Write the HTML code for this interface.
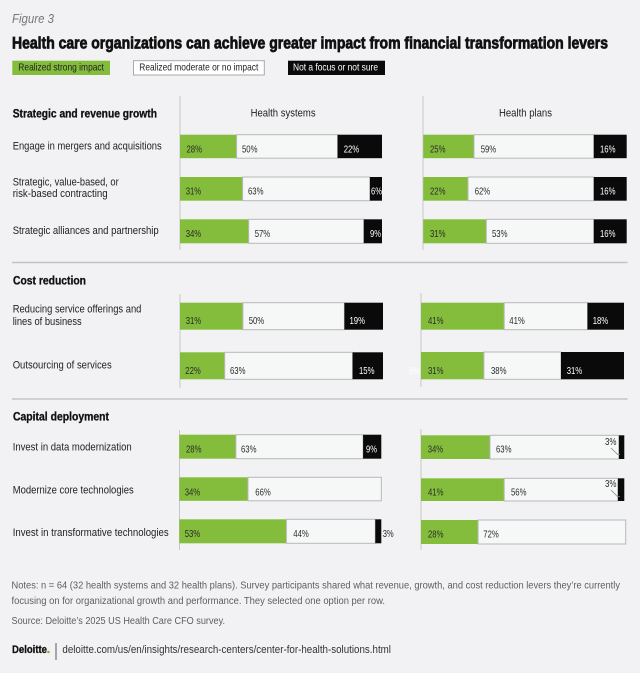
<!DOCTYPE html>
<html><head><meta charset="utf-8">
<style>
html,body{margin:0;padding:0;background:#f2f2f4;}
svg{display:block;}
text{font-family:"Liberation Sans",sans-serif;}
.lab{font-size:11px;fill:#222;}
.hd{font-size:11.5px;font-weight:bold;fill:#111;stroke:#111;stroke-width:0.3;}
.v{font-size:10.3px;fill:#2a2a2a;}
.vw{font-size:10.3px;fill:#fff;}
.nt{font-size:10px;fill:#5e5e5e;}
</style></head>
<body>
<svg width="640" height="673" viewBox="0 0 640 673" xmlns="http://www.w3.org/2000/svg">
<rect width="640" height="673" fill="#f2f2f4"/>
<text x="12" y="23" font-family="Liberation Serif, serif" font-style="italic" font-size="13" fill="#777" textLength="42" lengthAdjust="spacingAndGlyphs">Figure 3</text>
<text x="12" y="48.5" font-size="16.5" font-weight="bold" fill="#111" stroke="#111" stroke-width="0.75" textLength="596" lengthAdjust="spacingAndGlyphs">Health care organizations can achieve greater impact from financial transformation levers</text>

<!-- legend -->
<rect x="12.3" y="60.7" width="97.7" height="14.3" fill="#84bd3c"/>
<text x="18.3" y="70.5" font-size="10.5" fill="#222" textLength="85.7" lengthAdjust="spacingAndGlyphs">Realized strong impact</text>
<rect x="133.5" y="60.7" width="130.8" height="14.3" fill="#fff" stroke="#aaa" stroke-width="1"/>
<text x="139.3" y="70.5" font-size="10.5" fill="#222" textLength="119" lengthAdjust="spacingAndGlyphs">Realized moderate or no impact</text>
<rect x="288" y="60.7" width="97" height="14.3" fill="#0a0a0a"/>
<text x="293" y="70.5" font-size="10.5" fill="#fff" textLength="85" lengthAdjust="spacingAndGlyphs">Not a focus or not sure</text>

<!-- section 1 -->
<text class="hd" x="12.7" y="117.7" textLength="144.3" lengthAdjust="spacingAndGlyphs">Strategic and revenue growth</text>
<text x="250.6" y="116.5" font-size="11" fill="#222" textLength="65" lengthAdjust="spacingAndGlyphs">Health systems</text>
<text x="499" y="116.5" font-size="11" fill="#222" textLength="53" lengthAdjust="spacingAndGlyphs">Health plans</text>
<line x1="180" y1="96" x2="180" y2="250" stroke="#c8c8c8" stroke-width="1"/>
<line x1="423" y1="96" x2="423" y2="250" stroke="#c8c8c8" stroke-width="1"/>

<text class="lab" x="12.7" y="149.5" textLength="149" lengthAdjust="spacingAndGlyphs">Engage in mergers and acquisitions</text>
<text class="lab" x="12.7" y="185.7" textLength="106" lengthAdjust="spacingAndGlyphs">Strategic, value-based, or</text>
<text class="lab" x="12.7" y="197.2" textLength="95" lengthAdjust="spacingAndGlyphs">risk-based contracting</text>
<text class="lab" x="12.7" y="234" textLength="146" lengthAdjust="spacingAndGlyphs">Strategic alliances and partnership</text>

<g>
<rect x="180" y="134.7" width="56.6" height="23.5" fill="#84bd3c"/>
<rect x="236.6" y="134.7" width="101" height="23.5" fill="#f6f8f8" stroke="#b8b8b8"/>
<rect x="337.6" y="134.7" width="44.4" height="23.5" fill="#0a0a0a"/>
<text class="v" x="186.5" y="152.3" textLength="15.5" lengthAdjust="spacingAndGlyphs">28%</text>
<text class="v" x="242" y="152.3" textLength="15.5" lengthAdjust="spacingAndGlyphs">50%</text>
<text class="vw" x="343.7" y="152.3" textLength="15.5" lengthAdjust="spacingAndGlyphs">22%</text>

<rect x="180" y="177" width="62.6" height="23.7" fill="#84bd3c"/>
<rect x="242.6" y="177" width="127.3" height="23.7" fill="#f6f8f8" stroke="#b8b8b8"/>
<rect x="369.9" y="177" width="12.1" height="23.7" fill="#0a0a0a"/>
<text class="v" x="185.7" y="194.7" textLength="15.5" lengthAdjust="spacingAndGlyphs">31%</text>
<text class="v" x="248" y="194.7" textLength="15.5" lengthAdjust="spacingAndGlyphs">63%</text>
<text class="vw" x="371" y="194.7" textLength="11" lengthAdjust="spacingAndGlyphs">6%</text>

<rect x="180" y="219.3" width="68.7" height="24" fill="#84bd3c"/>
<rect x="248.7" y="219.3" width="115.1" height="24" fill="#f6f8f8" stroke="#b8b8b8"/>
<rect x="363.8" y="219.3" width="18.2" height="24" fill="#0a0a0a"/>
<text class="v" x="185.7" y="237" textLength="15.5" lengthAdjust="spacingAndGlyphs">34%</text>
<text class="v" x="254.7" y="237" textLength="15.5" lengthAdjust="spacingAndGlyphs">57%</text>
<text class="vw" x="370" y="237" textLength="11" lengthAdjust="spacingAndGlyphs">9%</text>
</g>

<g>
<rect x="423.3" y="134.7" width="50.7" height="23.5" fill="#84bd3c"/>
<rect x="474" y="134.7" width="119.8" height="23.5" fill="#f6f8f8" stroke="#b8b8b8"/>
<rect x="593.8" y="134.7" width="32.9" height="23.5" fill="#0a0a0a"/>
<text class="v" x="430" y="152.3" textLength="15.5" lengthAdjust="spacingAndGlyphs">25%</text>
<text class="v" x="480.7" y="152.3" textLength="15.5" lengthAdjust="spacingAndGlyphs">59%</text>
<text class="vw" x="600" y="152.3" textLength="15.5" lengthAdjust="spacingAndGlyphs">16%</text>

<rect x="423.3" y="177" width="44.7" height="23.7" fill="#84bd3c"/>
<rect x="468" y="177" width="125.8" height="23.7" fill="#f6f8f8" stroke="#b8b8b8"/>
<rect x="593.8" y="177" width="32.9" height="23.7" fill="#0a0a0a"/>
<text class="v" x="430" y="194.7" textLength="15.5" lengthAdjust="spacingAndGlyphs">22%</text>
<text class="v" x="474.7" y="194.7" textLength="15.5" lengthAdjust="spacingAndGlyphs">62%</text>
<text class="vw" x="600" y="194.7" textLength="15.5" lengthAdjust="spacingAndGlyphs">16%</text>

<rect x="423.3" y="219.3" width="63" height="24" fill="#84bd3c"/>
<rect x="486.3" y="219.3" width="107.5" height="24" fill="#f6f8f8" stroke="#b8b8b8"/>
<rect x="593.8" y="219.3" width="32.9" height="24" fill="#0a0a0a"/>
<text class="v" x="430" y="237" textLength="15.5" lengthAdjust="spacingAndGlyphs">31%</text>
<text class="v" x="492" y="237" textLength="15.5" lengthAdjust="spacingAndGlyphs">53%</text>
<text class="vw" x="600" y="237" textLength="15.5" lengthAdjust="spacingAndGlyphs">16%</text>
</g>

<line x1="12" y1="262.5" x2="627.5" y2="262.5" stroke="#c4c4c4" stroke-width="1.5"/>

<!-- section 2 -->
<text class="hd" x="13" y="284.3" textLength="73" lengthAdjust="spacingAndGlyphs">Cost reduction</text>
<line x1="180" y1="294" x2="180" y2="388" stroke="#c8c8c8" stroke-width="1"/>
<line x1="421" y1="293" x2="421" y2="387" stroke="#c8c8c8" stroke-width="1"/>
<text class="lab" x="12.7" y="312.3" textLength="128.7" lengthAdjust="spacingAndGlyphs">Reducing service offerings and</text>
<text class="lab" x="12.7" y="325" textLength="69" lengthAdjust="spacingAndGlyphs">lines of business</text>
<text class="lab" x="12.7" y="368.3" textLength="99" lengthAdjust="spacingAndGlyphs">Outsourcing of services</text>

<g>
<rect x="180" y="302.7" width="62.9" height="27" fill="#84bd3c"/>
<rect x="242.9" y="302.7" width="101.5" height="27" fill="#f6f8f8" stroke="#b8b8b8"/>
<rect x="344.4" y="302.7" width="38.6" height="27" fill="#0a0a0a"/>
<text class="v" x="185.7" y="324" textLength="15.5" lengthAdjust="spacingAndGlyphs">31%</text>
<text class="v" x="248.7" y="324" textLength="15.5" lengthAdjust="spacingAndGlyphs">50%</text>
<text class="vw" x="349.5" y="324" textLength="15.5" lengthAdjust="spacingAndGlyphs">19%</text>

<rect x="180" y="352.3" width="44.7" height="27" fill="#84bd3c"/>
<rect x="224.7" y="352.3" width="127.9" height="27" fill="#f6f8f8" stroke="#b8b8b8"/>
<rect x="352.6" y="352.3" width="30.4" height="27" fill="#0a0a0a"/>
<text class="v" x="185.3" y="374" textLength="15.5" lengthAdjust="spacingAndGlyphs">22%</text>
<text class="v" x="230" y="374" textLength="15.5" lengthAdjust="spacingAndGlyphs">63%</text>
<text class="vw" x="359" y="374" textLength="15.5" lengthAdjust="spacingAndGlyphs">15%</text>
<text class="vw" x="409" y="374" textLength="11" lengthAdjust="spacingAndGlyphs">6%</text>
</g>
<g>
<rect x="421" y="302.7" width="83.2" height="27" fill="#84bd3c"/>
<rect x="504.2" y="302.7" width="83.3" height="27" fill="#f6f8f8" stroke="#b8b8b8"/>
<rect x="587.5" y="302.7" width="36.5" height="27" fill="#0a0a0a"/>
<text class="v" x="428" y="324" textLength="15.5" lengthAdjust="spacingAndGlyphs">41%</text>
<text class="v" x="509.3" y="324" textLength="15.5" lengthAdjust="spacingAndGlyphs">41%</text>
<text class="vw" x="592.7" y="324" textLength="15.5" lengthAdjust="spacingAndGlyphs">18%</text>

<rect x="421" y="352" width="62.9" height="27.3" fill="#84bd3c"/>
<rect x="483.9" y="352" width="77.1" height="27.3" fill="#f6f8f8" stroke="#b8b8b8"/>
<rect x="561" y="352" width="63" height="27.3" fill="#0a0a0a"/>
<text class="v" x="428" y="374" textLength="15.5" lengthAdjust="spacingAndGlyphs">31%</text>
<text class="v" x="491" y="374" textLength="15.5" lengthAdjust="spacingAndGlyphs">38%</text>
<text class="vw" x="566.7" y="374" textLength="15.5" lengthAdjust="spacingAndGlyphs">31%</text>
</g>

<line x1="12" y1="399" x2="627.5" y2="399" stroke="#c4c4c4" stroke-width="1.5"/>

<!-- section 3 -->
<text class="hd" x="13" y="420.7" textLength="96" lengthAdjust="spacingAndGlyphs">Capital deployment</text>
<line x1="179.5" y1="430" x2="179.5" y2="550" stroke="#c8c8c8" stroke-width="1"/>
<line x1="421" y1="429" x2="421" y2="550" stroke="#c8c8c8" stroke-width="1"/>
<text class="lab" x="12.7" y="450.7" textLength="119" lengthAdjust="spacingAndGlyphs">Invest in data modernization</text>
<text class="lab" x="12.7" y="493.3" textLength="121" lengthAdjust="spacingAndGlyphs">Modernize core technologies</text>
<text class="lab" x="12.7" y="536" textLength="156" lengthAdjust="spacingAndGlyphs">Invest in transformative technologies</text>

<g>
<rect x="179.3" y="434.7" width="56.6" height="24" fill="#84bd3c"/>
<rect x="235.9" y="434.7" width="127.2" height="24" fill="#f6f8f8" stroke="#b8b8b8"/>
<rect x="363.1" y="434.7" width="18.2" height="24" fill="#0a0a0a"/>
<text class="v" x="186" y="452.3" textLength="15.5" lengthAdjust="spacingAndGlyphs">28%</text>
<text class="v" x="241" y="452.3" textLength="15.5" lengthAdjust="spacingAndGlyphs">63%</text>
<text class="vw" x="366" y="452.3" textLength="11" lengthAdjust="spacingAndGlyphs">9%</text>

<rect x="179.3" y="477.3" width="68.7" height="23.5" fill="#84bd3c"/>
<rect x="248" y="477.3" width="133.3" height="23.5" fill="#f6f8f8" stroke="#b8b8b8"/>
<text class="v" x="184.7" y="495.3" textLength="15.5" lengthAdjust="spacingAndGlyphs">34%</text>
<text class="v" x="255.3" y="495.3" textLength="15.5" lengthAdjust="spacingAndGlyphs">66%</text>

<rect x="179.3" y="519.3" width="107.1" height="24" fill="#84bd3c"/>
<rect x="286.4" y="519.3" width="88.9" height="24" fill="#f6f8f8" stroke="#b8b8b8"/>
<rect x="375.3" y="519.3" width="6" height="24" fill="#0a0a0a"/>
<text class="v" x="184.7" y="537" textLength="15.5" lengthAdjust="spacingAndGlyphs">53%</text>
<text class="v" x="293.3" y="537" textLength="15.5" lengthAdjust="spacingAndGlyphs">44%</text>
<text class="v" x="382.7" y="537" textLength="11" lengthAdjust="spacingAndGlyphs">3%</text>
</g>
<g>
<rect x="421" y="435.3" width="69" height="23.7" fill="#84bd3c"/>
<rect x="490" y="435.3" width="128.9" height="23.7" fill="#f6f8f8" stroke="#b8b8b8"/>
<rect x="618.9" y="435.3" width="5.4" height="23.7" fill="#0a0a0a"/>
<text class="v" x="427.7" y="452.7" textLength="15.5" lengthAdjust="spacingAndGlyphs">34%</text>
<text class="v" x="496" y="452.7" textLength="15.5" lengthAdjust="spacingAndGlyphs">63%</text>
<text class="v" x="605" y="445" textLength="11.5" lengthAdjust="spacingAndGlyphs">3%</text>
<polyline points="611,448 617.5,454.3 620,454.3" fill="none" stroke="#888" stroke-width="0.8"/>

<rect x="421" y="478.3" width="83.2" height="22.7" fill="#84bd3c"/>
<rect x="504.2" y="478.3" width="113.7" height="22.7" fill="#f6f8f8" stroke="#b8b8b8"/>
<rect x="617.9" y="478.3" width="6.4" height="22.7" fill="#0a0a0a"/>
<text class="v" x="428" y="495.3" textLength="15.5" lengthAdjust="spacingAndGlyphs">41%</text>
<text class="v" x="511" y="495.3" textLength="15.5" lengthAdjust="spacingAndGlyphs">56%</text>
<text class="v" x="605" y="487" textLength="11.5" lengthAdjust="spacingAndGlyphs">3%</text>
<polyline points="611,490 617.5,496.5 620,496.5" fill="none" stroke="#888" stroke-width="0.8"/>

<rect x="421" y="520" width="57.1" height="24" fill="#84bd3c"/>
<rect x="478.1" y="520" width="147.6" height="24" fill="#f6f8f8" stroke="#b8b8b8"/>
<text class="v" x="428" y="537.7" textLength="15.5" lengthAdjust="spacingAndGlyphs">28%</text>
<text class="v" x="483.3" y="537.7" textLength="15.5" lengthAdjust="spacingAndGlyphs">72%</text>
</g>

<!-- notes -->
<text class="nt" x="11.5" y="588.5" textLength="608.5" lengthAdjust="spacingAndGlyphs">Notes: n = 64 (32 health systems and 32 health plans). Survey participants shared what revenue, growth, and cost reduction levers they’re currently</text>
<text class="nt" x="11.5" y="604" textLength="373.5" lengthAdjust="spacingAndGlyphs">focusing on for organizational growth and performance. They selected one option per row.</text>
<text class="nt" x="11.5" y="624" textLength="213.5" lengthAdjust="spacingAndGlyphs">Source: Deloitte’s 2025 US Health Care CFO survey.</text>

<text x="12" y="653" font-size="11" font-weight="bold" fill="#111" stroke="#111" stroke-width="0.3" textLength="35" lengthAdjust="spacingAndGlyphs">Deloitte</text>
<circle cx="48.5" cy="652" r="1.3" fill="#86bc25"/>
<line x1="56" y1="643" x2="56" y2="660" stroke="#333" stroke-width="0.8"/>
<text x="62.4" y="653" font-size="11" fill="#333" textLength="328.6" lengthAdjust="spacingAndGlyphs">deloitte.com/us/en/insights/research-centers/center-for-health-solutions.html</text>
</svg>
</body></html>
